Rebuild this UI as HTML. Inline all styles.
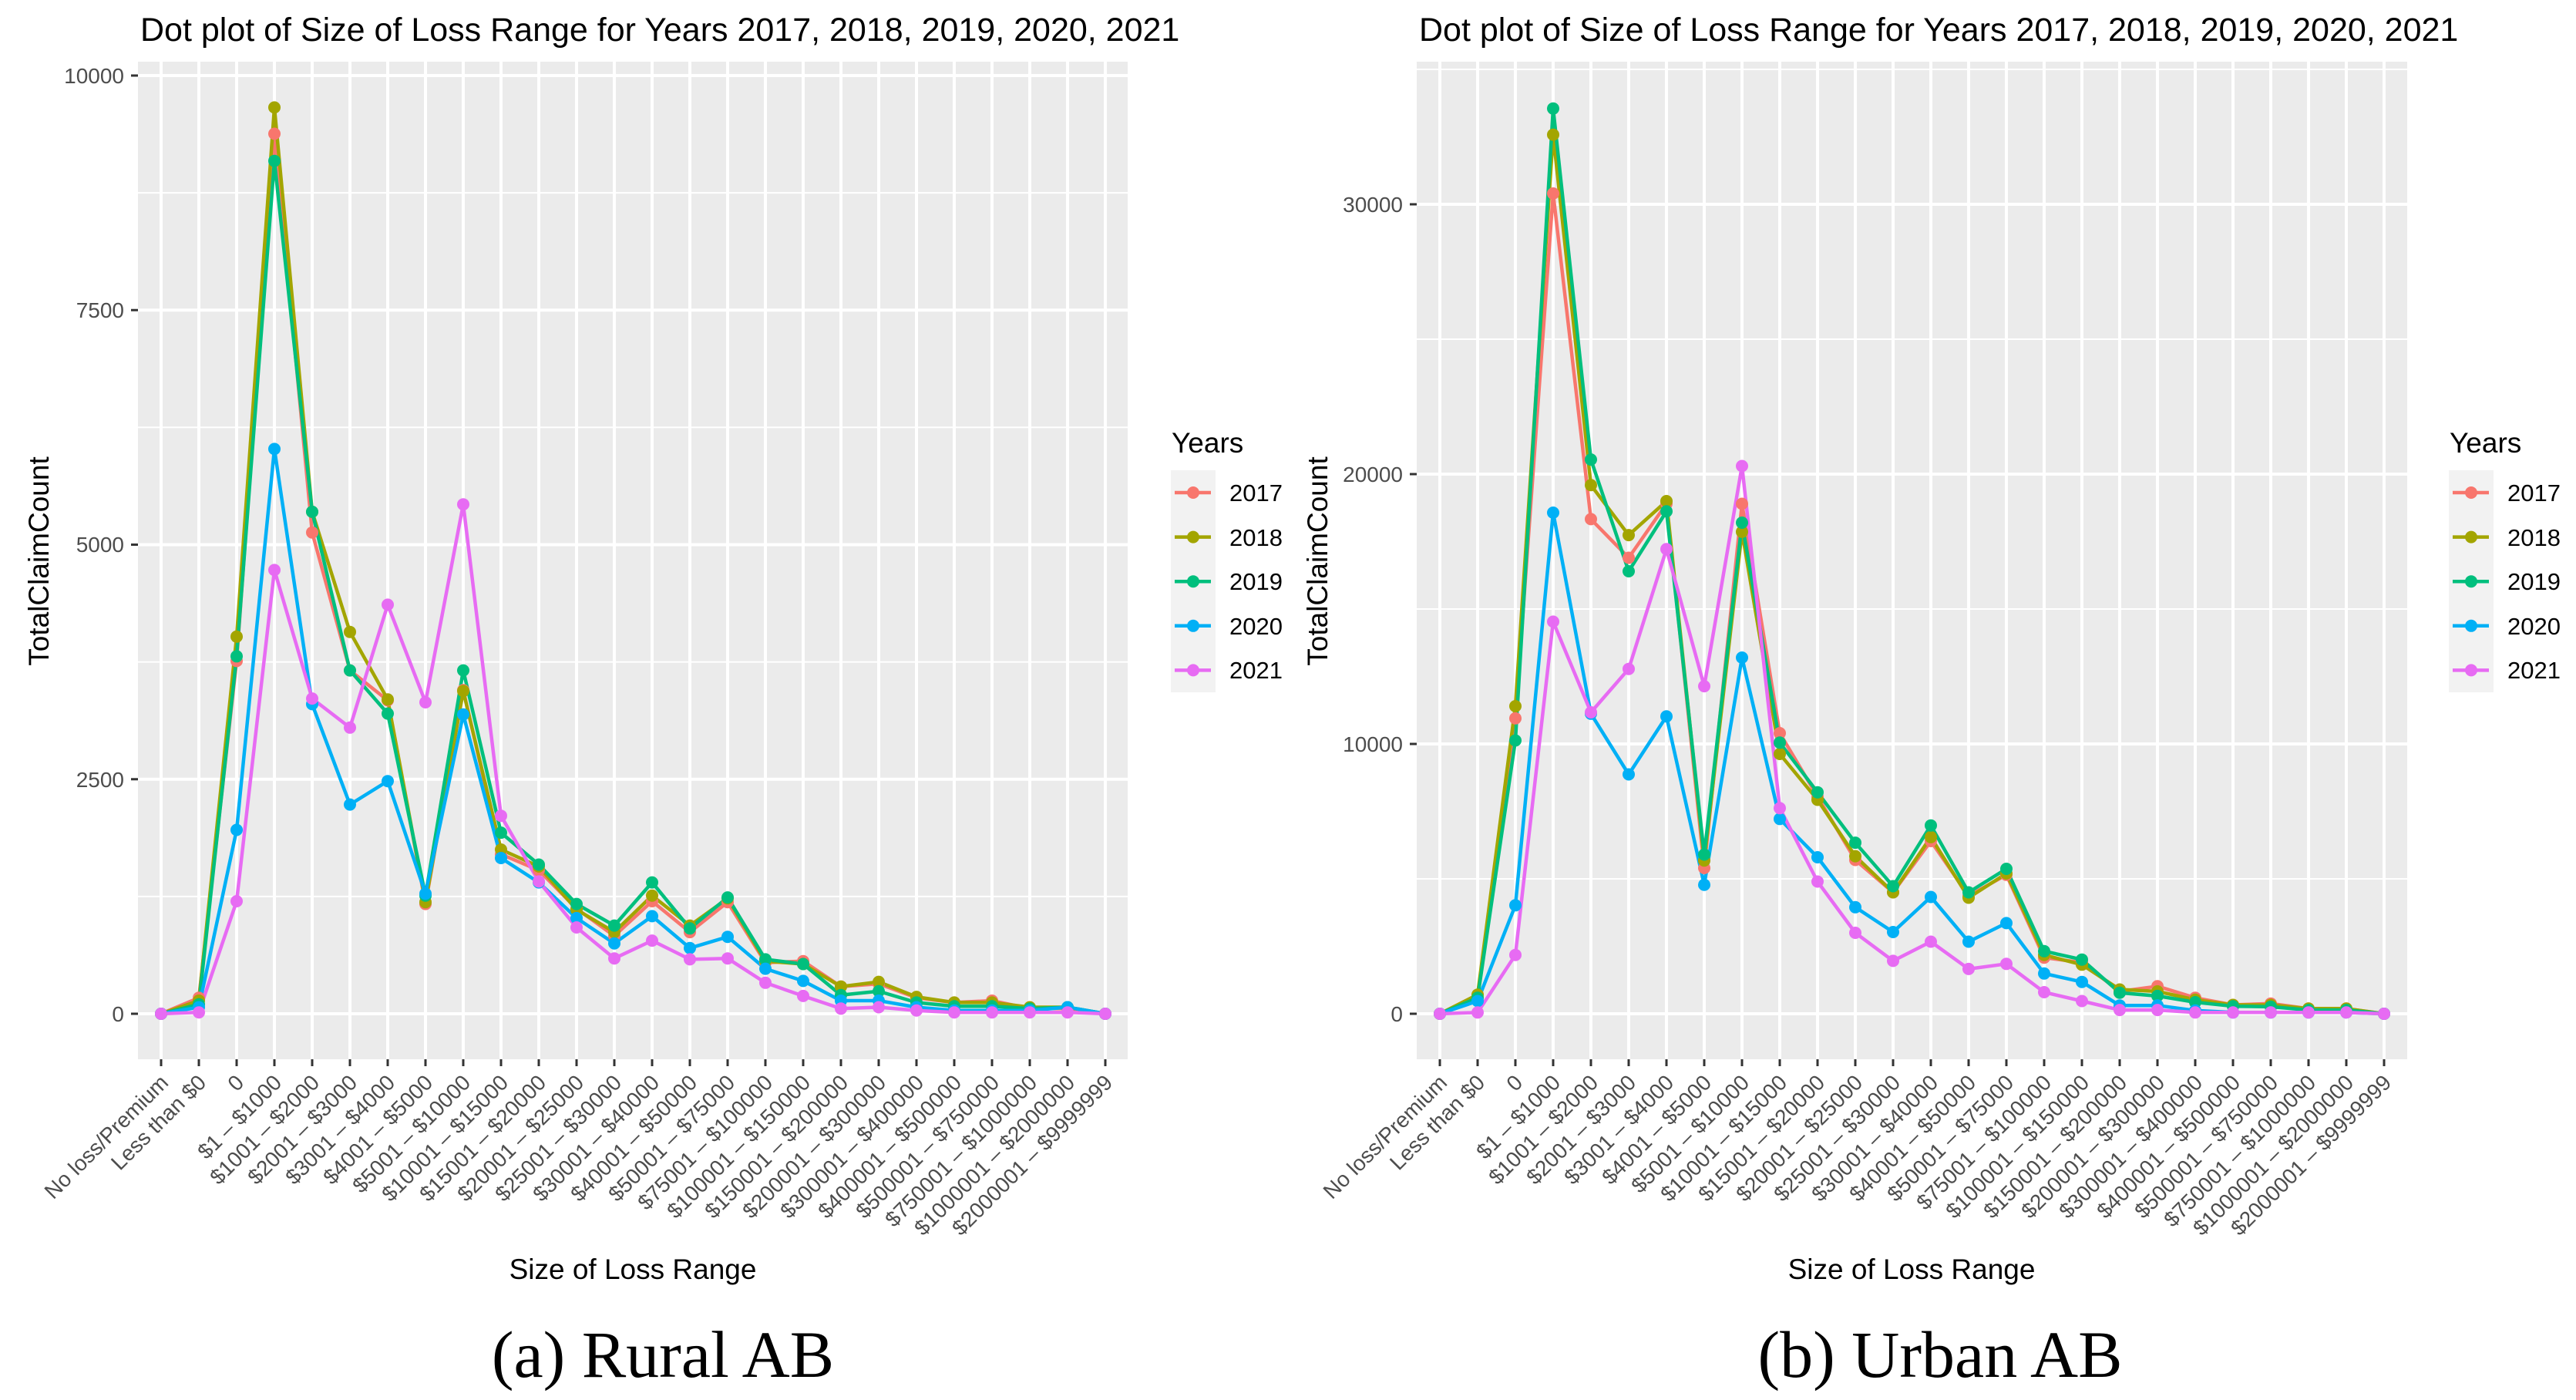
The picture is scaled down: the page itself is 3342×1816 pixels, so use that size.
<!DOCTYPE html>
<html><head><meta charset="utf-8"><style>
html,body{margin:0;padding:0;background:#fff;}
svg{display:block;}
text{font-family:"Liberation Sans",sans-serif;}
.t{font-size:43px;fill:#000;}
.yl{font-size:28px;fill:#4d4d4d;text-anchor:end;}
.xl{font-size:28px;fill:#4d4d4d;text-anchor:end;}
.at{font-size:37px;fill:#000;}
.lg{font-size:31px;fill:#000;}
.cap{font-family:"Liberation Serif",serif;font-size:86px;fill:#000;text-anchor:middle;}
</style></head><body>
<svg id="s" width="3342" height="1816" viewBox="0 0 3342 1816" xmlns="http://www.w3.org/2000/svg">
<rect width="3342" height="1816" fill="#fff"/>
<g id="plots"></g>
<text class="t" x="182" y="53">Dot plot of Size of Loss Range for Years 2017, 2018, 2019, 2020, 2021</text>
<text class="t" x="1841" y="53">Dot plot of Size of Loss Range for Years 2017, 2018, 2019, 2020, 2021</text>
<text class="yl" x="161" y="108">10000</text>
<text class="yl" x="161" y="412">7500</text>
<text class="yl" x="161" y="716">5000</text>
<text class="yl" x="161" y="1021">2500</text>
<text class="yl" x="161" y="1325">0</text>
<text class="yl" x="1820" y="275">30000</text>
<text class="yl" x="1820" y="625">20000</text>
<text class="yl" x="1820" y="975">10000</text>
<text class="yl" x="1820" y="1325">0</text>
<text class="at" transform="translate(63,728) rotate(-90)" text-anchor="middle">TotalClaimCount</text>
<text class="at" transform="translate(1722,728) rotate(-90)" text-anchor="middle">TotalClaimCount</text>
<text class="at" x="821" y="1659" text-anchor="middle">Size of Loss Range</text>
<text class="at" x="2480" y="1659" text-anchor="middle">Size of Loss Range</text>
<text class="at" x="1520" y="587">Years</text>
<text class="lg" x="1595" y="650">2017</text>
<text class="lg" x="1595" y="708">2018</text>
<text class="lg" x="1595" y="765">2019</text>
<text class="lg" x="1595" y="823">2020</text>
<text class="lg" x="1595" y="880">2021</text>
<text class="at" x="3178" y="587">Years</text>
<text class="lg" x="3253" y="650">2017</text>
<text class="lg" x="3253" y="708">2018</text>
<text class="lg" x="3253" y="765">2019</text>
<text class="lg" x="3253" y="823">2020</text>
<text class="lg" x="3253" y="880">2021</text>
<g id="xl1">
<text class="xl" transform="translate(220,1406) rotate(-45)">No loss/Premium</text>
<text class="xl" transform="translate(269,1406) rotate(-45)">Less than $0</text>
<text class="xl" transform="translate(318,1406) rotate(-45)">0</text>
<text class="xl" transform="translate(367,1406) rotate(-45)">$1 – $1000</text>
<text class="xl" transform="translate(416,1406) rotate(-45)">$1001 – $2000</text>
<text class="xl" transform="translate(465,1406) rotate(-45)">$2001 – $3000</text>
<text class="xl" transform="translate(514,1406) rotate(-45)">$3001 – $4000</text>
<text class="xl" transform="translate(563,1406) rotate(-45)">$4001 – $5000</text>
<text class="xl" transform="translate(612,1406) rotate(-45)">$5001 – $10000</text>
<text class="xl" transform="translate(661,1406) rotate(-45)">$10001 – $15000</text>
<text class="xl" transform="translate(710,1406) rotate(-45)">$15001 – $20000</text>
<text class="xl" transform="translate(759,1406) rotate(-45)">$20001 – $25000</text>
<text class="xl" transform="translate(808,1406) rotate(-45)">$25001 – $30000</text>
<text class="xl" transform="translate(857,1406) rotate(-45)">$30001 – $40000</text>
<text class="xl" transform="translate(906,1406) rotate(-45)">$40001 – $50000</text>
<text class="xl" transform="translate(955,1406) rotate(-45)">$50001 – $75000</text>
<text class="xl" transform="translate(1004,1406) rotate(-45)">$75001 – $100000</text>
<text class="xl" transform="translate(1053,1406) rotate(-45)">$100001 – $150000</text>
<text class="xl" transform="translate(1102,1406) rotate(-45)">$150001 – $200000</text>
<text class="xl" transform="translate(1151,1406) rotate(-45)">$200001 – $300000</text>
<text class="xl" transform="translate(1200,1406) rotate(-45)">$300001 – $400000</text>
<text class="xl" transform="translate(1249,1406) rotate(-45)">$400001 – $500000</text>
<text class="xl" transform="translate(1298,1406) rotate(-45)">$500001 – $750000</text>
<text class="xl" transform="translate(1347,1406) rotate(-45)">$750001 – $1000000</text>
<text class="xl" transform="translate(1396,1406) rotate(-45)">$1000001 – $2000000</text>
<text class="xl" transform="translate(1445,1406) rotate(-45)">$2000001 – $9999999</text>
</g>
<g transform="translate(1659,0)">
<text class="xl" transform="translate(220,1406) rotate(-45)">No loss/Premium</text>
<text class="xl" transform="translate(269,1406) rotate(-45)">Less than $0</text>
<text class="xl" transform="translate(318,1406) rotate(-45)">0</text>
<text class="xl" transform="translate(367,1406) rotate(-45)">$1 – $1000</text>
<text class="xl" transform="translate(416,1406) rotate(-45)">$1001 – $2000</text>
<text class="xl" transform="translate(465,1406) rotate(-45)">$2001 – $3000</text>
<text class="xl" transform="translate(514,1406) rotate(-45)">$3001 – $4000</text>
<text class="xl" transform="translate(563,1406) rotate(-45)">$4001 – $5000</text>
<text class="xl" transform="translate(612,1406) rotate(-45)">$5001 – $10000</text>
<text class="xl" transform="translate(661,1406) rotate(-45)">$10001 – $15000</text>
<text class="xl" transform="translate(710,1406) rotate(-45)">$15001 – $20000</text>
<text class="xl" transform="translate(759,1406) rotate(-45)">$20001 – $25000</text>
<text class="xl" transform="translate(808,1406) rotate(-45)">$25001 – $30000</text>
<text class="xl" transform="translate(857,1406) rotate(-45)">$30001 – $40000</text>
<text class="xl" transform="translate(906,1406) rotate(-45)">$40001 – $50000</text>
<text class="xl" transform="translate(955,1406) rotate(-45)">$50001 – $75000</text>
<text class="xl" transform="translate(1004,1406) rotate(-45)">$75001 – $100000</text>
<text class="xl" transform="translate(1053,1406) rotate(-45)">$100001 – $150000</text>
<text class="xl" transform="translate(1102,1406) rotate(-45)">$150001 – $200000</text>
<text class="xl" transform="translate(1151,1406) rotate(-45)">$200001 – $300000</text>
<text class="xl" transform="translate(1200,1406) rotate(-45)">$300001 – $400000</text>
<text class="xl" transform="translate(1249,1406) rotate(-45)">$400001 – $500000</text>
<text class="xl" transform="translate(1298,1406) rotate(-45)">$500001 – $750000</text>
<text class="xl" transform="translate(1347,1406) rotate(-45)">$750001 – $1000000</text>
<text class="xl" transform="translate(1396,1406) rotate(-45)">$1000001 – $2000000</text>
<text class="xl" transform="translate(1445,1406) rotate(-45)">$2000001 – $9999999</text>
</g>
<text class="cap" x="860" y="1786">(a) Rural AB</text>
<text class="cap" x="2517" y="1786">(b) Urban AB</text>
</svg>
<script>
(function(){
var NS="http://www.w3.org/2000/svg";
var g=document.getElementById("plots");
function el(n,a){var e=document.createElementNS(NS,n);for(var k in a)e.setAttribute(k,a[k]);g.appendChild(e);return e;}
var cols=["#F8766D","#A3A500","#00BF7D","#00B0F6","#E76BF3"];
var rural=[
[0,170,3760,9380,5130,3660,3340,1170,3450,1700,1530,1120,830,1200,870,1190,545,560,290,320,170,120,140,55,55,0],
[0,140,4020,9660,5350,4070,3350,1190,3440,1750,1570,1110,870,1260,940,1230,560,530,290,340,180,120,120,70,70,0],
[0,100,3810,9090,5350,3660,3200,1260,3660,1930,1590,1170,940,1400,910,1240,580,530,200,240,120,80,80,55,70,0],
[0,70,1960,6020,3300,2230,2480,1280,3190,1660,1400,1020,750,1040,700,820,480,350,140,140,70,35,35,35,70,0],
[0,15,1200,4730,3360,3050,4360,3320,5430,2110,1410,920,590,780,580,590,330,190,55,70,35,15,15,15,15,0]];
var urban=[
[0,600,10950,30400,18330,16900,18900,5400,18900,10400,8050,5700,4500,6400,4370,5150,2080,1900,830,1020,590,330,380,190,190,0],
[0,710,11400,32580,19590,17740,19000,5680,17860,9630,7930,5840,4500,6550,4300,5200,2180,1820,900,830,520,330,330,190,190,0],
[0,590,10130,33550,20540,16400,18620,5900,18200,10050,8210,6340,4730,6980,4500,5370,2320,2010,780,660,430,280,260,140,140,0],
[0,470,4020,18570,11120,8870,11020,4780,13200,7220,5800,3950,3030,4330,2670,3360,1490,1180,310,310,120,50,50,50,50,0],
[0,50,2180,14530,11170,12780,17220,12140,20300,7620,4900,3000,1960,2670,1660,1850,800,470,140,140,50,50,50,50,50,0]];
function panel(x0,x1,cx0,ybot,yscale,maj,mino,data,lx){
 el("rect",{x:x0,y:80,width:x1-x0,height:1374-80,fill:"#ebebeb"});
 mino.forEach(function(v){var y=ybot-v*yscale;el("line",{x1:x0,x2:x1,y1:y,y2:y,stroke:"#fff","stroke-width":2});});
 maj.forEach(function(v){var y=ybot-v*yscale;el("line",{x1:x0,x2:x1,y1:y,y2:y,stroke:"#fff","stroke-width":4});
   el("line",{x1:x0-9,x2:x0,y1:y,y2:y,stroke:"#333","stroke-width":3});});
 for(var i=0;i<26;i++){var x=cx0+49*i;el("line",{x1:x,x2:x,y1:80,y2:1374,stroke:"#fff","stroke-width":4});
   el("line",{x1:x,x2:x,y1:1374,y2:1383,stroke:"#333","stroke-width":3});}
 data.forEach(function(s,k){var p=s.map(function(v,i){return (cx0+49*i)+","+(ybot-v*yscale).toFixed(1);}).join(" ");
   el("polyline",{points:p,fill:"none",stroke:cols[k],"stroke-width":4.5,"stroke-linejoin":"round"});});
 data.forEach(function(s,k){s.forEach(function(v,i){el("circle",{cx:cx0+49*i,cy:(ybot-v*yscale).toFixed(1),r:8,fill:cols[k]});});});
 el("rect",{x:lx,y:610,width:58,height:288,fill:"#f2f2f2"});
 for(var k=0;k<5;k++){var y=639+57.6*k;el("line",{x1:lx+5,x2:lx+52,y1:y,y2:y,stroke:cols[k],"stroke-width":4.5});
   el("circle",{cx:lx+29,cy:y,r:8,fill:cols[k]});}
}
panel(179,1463,209,1315,0.1217,[0,2500,5000,7500,10000],[1250,3750,6250,8750],rural,1519);
panel(1838,3123,1868,1315,0.035,[0,10000,20000,30000],[5000,15000,25000,35000],urban,3177);
})();
</script>
</body></html>
